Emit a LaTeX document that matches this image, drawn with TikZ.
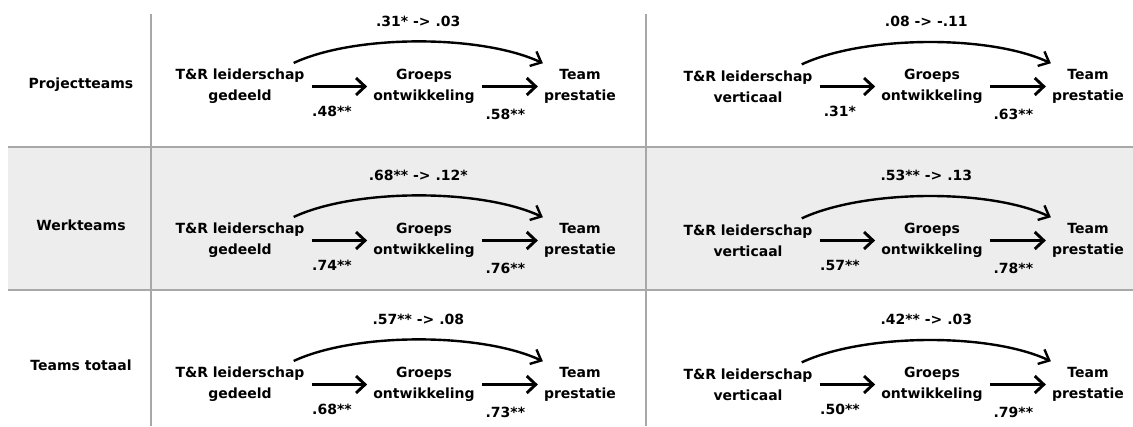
\documentclass[tikz,border=0pt]{standalone}
\usepackage{fontspec}
\setmainfont{DejaVu Sans}
\usetikzlibrary{arrows.meta,positioning}
\definecolor{rulegray}{RGB}{168,168,168}
\definecolor{rowgray}{RGB}{237,237,237}

\begin{document}
\begin{tikzpicture}[
  x=1pt, y=-1pt,
  var/.style = {align=center, inner sep=1pt, font=\bfseries\fontsize{14}{21}\selectfont},
  wt/.style = {inner sep=1pt, font=\bfseries\fontsize{14}{17}\selectfont},
  group/.style = {wt},
  weight/.style = {wt, below=17pt, xshift=-7pt},
  weightlow/.style = {wt, below=20pt, xshift=-4pt},
  total/.style = {wt, above=13pt},
  arrow/.style = {-{Straight Barb[length=9pt,width=17pt]}, line width=2.9pt, shorten <=6pt, shorten >=5pt},
  curve/.style = {-{Straight Barb[length=9pt,width=16pt]}, line width=2.4pt},
  rule/.style = {draw=rulegray, line width=1.6pt}
]

\useasboundingbox (0,0) rectangle (1133,426);

% Table: shaded middle row and grey rules
\fill[white] (0,0) rectangle (1133,426);
\fill[rowgray] (8,147) rectangle (1133,290);
\draw[rule] (8,147) -- (1133,147);
\draw[rule] (8,290) -- (1133,290);
\draw[rule] (151,14) -- (151,426);
\draw[rule] (646,14) -- (646,426);

% Column 1: team types
\node[group] at (81,85) (proj) {Projectteams};
\node[group] at (81,225) (werk) {Werkteams};
\node[group] at (81,365) (totaal) {Teams totaal};

% Row 1: Projectteams
\node[var] at (240,86.5) (leadP1) {T\&R leiderschap\\gedeeld};
\node[var] at (424,86.5) (groupP1) {Groeps\\ontwikkeling};
\node[var] at (580,86.5) (teamP1) {Team\\prestatie};
\node[var] at (748,86.5) (leadP2) {T\&R leiderschap\\verticaal};
\node[var] at (932,86.5) (groupP2) {Groeps\\ontwikkeling};
\node[var] at (1088,86.5) (teamP2) {Team\\prestatie};

% Row 2: Werkteams
\node[var] at (240,240.5) (leadW1) {T\&R leiderschap\\gedeeld};
\node[var] at (424,240.5) (groupW1) {Groeps\\ontwikkeling};
\node[var] at (580,240.5) (teamW1) {Team\\prestatie};
\node[var] at (748,240.5) (leadW2) {T\&R leiderschap\\verticaal};
\node[var] at (932,240.5) (groupW2) {Groeps\\ontwikkeling};
\node[var] at (1088,240.5) (teamW2) {Team\\prestatie};

% Row 3: Teams totaal
\node[var] at (240,384.5) (leadT1) {T\&R leiderschap\\gedeeld};
\node[var] at (424,384.5) (groupT1) {Groeps\\ontwikkeling};
\node[var] at (580,384.5) (teamT1) {Team\\prestatie};
\node[var] at (748,384.5) (leadT2) {T\&R leiderschap\\verticaal};
\node[var] at (932,384.5) (groupT2) {Groeps\\ontwikkeling};
\node[var] at (1088,384.5) (teamT2) {Team\\prestatie};

% Mediation arrows
\draw[arrow] (leadP1) -- node[weight] (wP1a) {.48**} (groupP1);
\draw[arrow] (groupP1) -- node[weightlow] (wP1b) {.58**} (teamP1);
\draw[arrow] (leadP2) -- node[weight] (wP2a) {.31*} (groupP2);
\draw[arrow] (groupP2) -- node[weightlow] (wP2b) {.63**} (teamP2);
\draw[arrow] (leadW1) -- node[weight] (wW1a) {.74**} (groupW1);
\draw[arrow] (groupW1) -- node[weightlow] (wW1b) {.76**} (teamW1);
\draw[arrow] (leadW2) -- node[weight] (wW2a) {.57**} (groupW2);
\draw[arrow] (groupW2) -- node[weightlow] (wW2b) {.78**} (teamW2);
\draw[arrow] (leadT1) -- node[weight] (wT1a) {.68**} (groupT1);
\draw[arrow] (groupT1) -- node[weightlow] (wT1b) {.73**} (teamT1);
\draw[arrow] (leadT2) -- node[weight] (wT2a) {.50**} (groupT2);
\draw[arrow] (groupT2) -- node[weightlow] (wT2b) {.79**} (teamT2);

% Direct effects (before -> after mediation)
\draw[curve] ([xshift=-12pt,yshift=5pt]leadP1.north east) to[out=25,in=155,looseness=.7] node[total] (dP1) {.31* -> .03} ([yshift=5pt]teamP1.north west);
\draw[curve] ([xshift=-12pt,yshift=5pt]leadP2.north east) to[out=25,in=155,looseness=.7] node[total] (dP2) {.08 -> -.11} ([yshift=5pt]teamP2.north west);
\draw[curve] ([xshift=-12pt,yshift=5pt]leadW1.north east) to[out=25,in=155,looseness=.7] node[total] (dW1) {.68** -> .12*} ([yshift=5pt]teamW1.north west);
\draw[curve] ([xshift=-12pt,yshift=5pt]leadW2.north east) to[out=25,in=155,looseness=.7] node[total] (dW2) {.53** -> .13} ([yshift=5pt]teamW2.north west);
\draw[curve] ([xshift=-12pt,yshift=5pt]leadT1.north east) to[out=25,in=155,looseness=.7] node[total] (dT1) {.57** -> .08} ([yshift=5pt]teamT1.north west);
\draw[curve] ([xshift=-12pt,yshift=5pt]leadT2.north east) to[out=25,in=155,looseness=.7] node[total] (dT2) {.42** -> .03} ([yshift=5pt]teamT2.north west);

\end{tikzpicture}
\end{document}
